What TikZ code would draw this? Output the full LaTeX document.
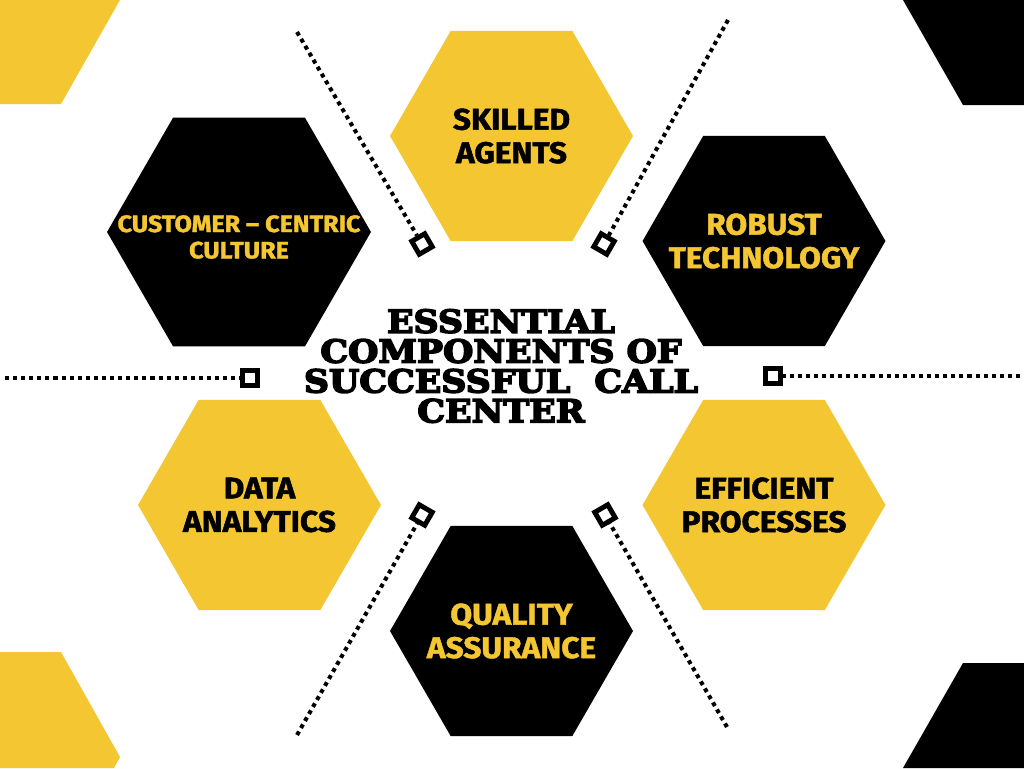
\documentclass[tikz,border=0pt]{standalone}
\usepackage{fontspec}
\setmainfont{DejaVu Serif}
\newfontfamily\hexfont{Fira Sans}[FakeStretch=1.06, FakeBold=1.5]
\newfontfamily\titlefont{DejaVu Serif}[UprightFont=* Bold, FakeStretch=1.1, FakeBold=5]
\usetikzlibrary{shapes.geometric}
\definecolor{honey}{HTML}{F3C632}
\tikzstyle{hexagon} = [regular polygon, regular polygon sides=6, minimum size=4.86cm, inner sep=0pt, outer sep=0pt]
\tikzstyle{yellowhex} = [hexagon, fill=honey]
\tikzstyle{blackhex} = [hexagon, fill=black]
\tikzstyle{hextext} = [align=center, inner sep=0pt, font=\hexfont\bfseries\fontsize{17}{19}\selectfont]
\tikzstyle{dotline} = [line width=2.3pt, dash pattern=on 2.3pt off 2.3pt]
\tikzstyle{endbox} = [draw, rectangle, line width=2.8pt, fill=white, minimum size=0.3cm, inner sep=0pt]
\tikzstyle{title} = [align=center, font=\titlefont\fontsize{18}{17}\selectfont]

\begin{document}
\begin{tikzpicture}[x=0.02cm, y=-0.02cm]
    \fill[white] (0,0) rectangle (1024,768);
    \useasboundingbox (0,0) rectangle (1024,768);

    % Corners.
    \fill[honey] (0,0) -- (120,0) -- (61,104) -- (0,104) -- cycle;
    \fill[black] (903,0) -- (1024,0) -- (1024,105) -- (963,105) -- cycle;
    \fill[honey] (0,652) -- (61,652) -- (120,757) -- (114,768) -- (0,768) -- cycle;
    \fill[black] (963,663) -- (1024,663) -- (1024,768) -- (903,768) -- cycle;

    % Hexagons.
    \node (skilled) [yellowhex] at (511.5,136) {};
    \node (culture) [blackhex, minimum size=5.28cm] at (239,232) {};
    \node (tech) [blackhex] at (764,241) {};
    \node (analytics) [yellowhex] at (259.5,505) {};
    \node (process) [yellowhex] at (764,505) {};
    \node (quality) [blackhex] at (511.5,631) {};

    % Labels.
    \node (skilled text) [hextext] at (skilled) {SKILLED\\AGENTS};
    \node (culture text) [hextext, text=honey, font=\hexfont\bfseries\fontsize{13.5}{15}\selectfont] at ([yshift=-0.1cm]culture) {CUSTOMER – CENTRIC\\CULTURE};
    \node (tech text) [hextext, text=honey] at (tech) {ROBUST\\TECHNOLOGY};
    \node (analytics text) [hextext] at (analytics) {DATA\\ANALYTICS};
    \node (process text) [hextext] at (process) {EFFICIENT\\PROCESSES};
    \node (quality text) [hextext, text=honey] at (quality) {QUALITY\\ASSURANCE};

    % Title.
    \node (title) [title] at (501,366) {ESSENTIAL\\COMPONENTS OF\\SUCCESSFUL~~CALL\\CENTER};

    % Dotted lines.
    \node (box1) [endbox, rotate=30] at (422,244) {};
    \node (box2) [endbox, rotate=-30] at (604,244) {};
    \node (box3) [endbox] at (250,378) {};
    \node (box4) [endbox] at (773,376) {};
    \node (box5) [endbox, rotate=-30] at (422,515) {};
    \node (box6) [endbox, rotate=30] at (605,515) {};

    \coordinate (end1) at (297,32);
    \coordinate (end2) at (728,20);
    \coordinate (end3) at (5,378);
    \coordinate (end4) at (1020,376);
    \coordinate (end5) at (297,735);
    \coordinate (end6) at (727,727);

    \foreach\i in {1, ..., 6} {
        \draw [dotline] (end\i) -- (box\i);
    }
\end{tikzpicture}
\end{document}
